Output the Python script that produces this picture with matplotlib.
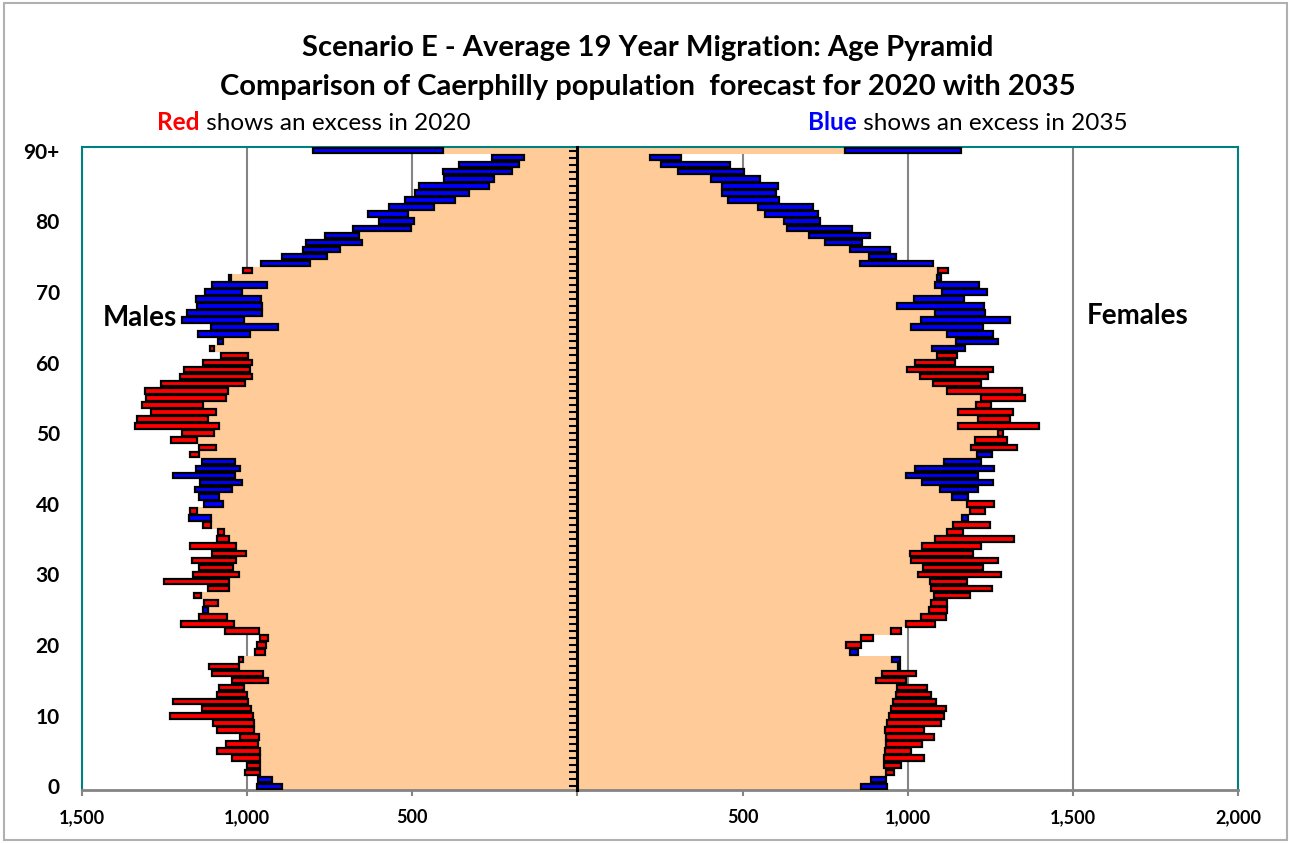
import numpy as np
import matplotlib.pyplot as plt
import matplotlib.text as mtext
from matplotlib.patches import Rectangle
from matplotlib.ticker import FuncFormatter

plt.rcParams['font.family'] = ['Lato', 'DejaVu Sans']

# single year of age, 0 .. 90+
ages = np.arange(0, 91)

male_2020 = [893, 925, 1006, 1000, 1045, 1092, 1064, 1023, 1092, 1102,
             1235, 1137, 1223, 1092, 1086, 1046, 1106, 1114, 1025, 976,
             971, 961, 1066, 1201, 1146, 1119, 1132, 1162, 1119, 1252,
             1165, 1147, 1166, 1107, 1173, 1092, 1089, 1134, 1109, 1173,
             1072, 1085, 1045, 1017, 1038, 1022, 1038, 1173, 1145, 1231,
             1198, 1339, 1334, 1292, 1319, 1306, 1309, 1262, 1203, 1190,
             1134, 1080, 1112, 1072, 991, 908, 1011, 956, 956, 959,
             1016, 940, 1048, 1014, 809, 757, 720, 652, 661, 504,
             496, 513, 435, 370, 327, 269, 254, 198, 178, 163,
             407]
male_2035 = [971, 967, 961, 961, 961, 961, 966, 964, 979, 979,
             981, 989, 996, 1001, 1011, 937, 952, 1024, 1014, 947,
             944, 937, 965, 1041, 1062, 1134, 1089, 1139, 1056, 1055,
             1026, 1044, 1034, 1003, 1034, 1055, 1070, 1108, 1177, 1151,
             1130, 1145, 1158, 1142, 1223, 1155, 1137, 1147, 1093, 1151,
             1100, 1085, 1119, 1093, 1135, 1065, 1059, 1007, 984, 991,
             984, 996, 1100, 1087, 1148, 1110, 1196, 1181, 1151, 1156,
             1127, 1107, 1054, 986, 958, 895, 832, 821, 764, 680,
             600, 635, 572, 521, 491, 481, 405, 408, 358, 258,
             802]
female_2020 = [860, 890, 957, 981, 1048, 1009, 1042, 1080, 1049, 1102,
               1110, 1117, 1085, 1070, 1057, 996, 1026, 971, 951, 824,
               858, 896, 981, 1082, 1117, 1120, 1120, 1188, 1254, 1181,
               1282, 1229, 1272, 1198, 1223, 1322, 1166, 1248, 1164, 1233,
               1260, 1133, 1098, 1044, 994, 1021, 1110, 1211, 1332, 1302,
               1287, 1396, 1310, 1319, 1252, 1355, 1345, 1221, 1244, 1257,
               1142, 1150, 1075, 1145, 1118, 1010, 1040, 1082, 968, 1019,
               1103, 1084, 1088, 1121, 855, 882, 825, 751, 700, 634,
               626, 568, 547, 457, 437, 437, 405, 305, 252, 219,
               811]
female_2035 = [936, 933, 933, 928, 928, 930, 934, 933, 931, 936,
               943, 948, 955, 964, 969, 903, 923, 977, 977, 850,
               814, 860, 950, 994, 1039, 1063, 1072, 1080, 1072, 1068,
               1032, 1046, 1009, 1007, 1044, 1083, 1118, 1138, 1183, 1189,
               1179, 1183, 1214, 1257, 1214, 1260, 1221, 1254, 1191, 1204,
               1274, 1152, 1214, 1152, 1206, 1221, 1118, 1078, 1036, 997,
               1021, 1088, 1174, 1273, 1258, 1229, 1311, 1235, 1231, 1169,
               1241, 1217, 1102, 1092, 1076, 966, 947, 861, 887, 831,
               733, 727, 712, 610, 602, 606, 553, 505, 463, 314,
               1162]

x_ticks = [-1500, -1000, -500, 0, 500, 1000, 1500, 2000]
y_ticks = [0, 10, 20, 30, 40, 50, 60, 70, 80, 90]
y_tick_labels = ['0', '10', '20', '30', '40', '50', '60', '70', '80', '90+']

peach = '#FFCC99'
red = '#FF0000'
blue = '#0000FF'
teal = '#008080'
grey = '#848484'

m20, m35 = np.array(male_2020), np.array(male_2035)
f20, f35 = np.array(female_2020), np.array(female_2035)

fig = plt.figure(figsize=(12.91, 8.43), dpi=100)
ax = fig.add_axes([82 / 1291, 1 - 790 / 843, (1238 - 82) / 1291, (790 - 147) / 843])

# common part of both years, then the excess bar on top
m_low, m_high = np.minimum(m20, m35), np.maximum(m20, m35)
f_low, f_high = np.minimum(f20, f35), np.maximum(f20, f35)
m_col = np.where(m20 > m35, red, blue)
f_col = np.where(f20 > f35, red, blue)

ax.barh(ages, -m_low, height=1.0, color=peach, linewidth=0, zorder=2)
ax.barh(ages, f_low, height=1.0, color=peach, linewidth=0, zorder=2)
ax.barh(ages, -(m_high - m_low), left=-m_low, height=0.78, color=m_col,
        edgecolor='black', linewidth=1.6, zorder=3)
ax.barh(ages, f_high - f_low, left=f_low, height=0.78, color=f_col,
        edgecolor='black', linewidth=1.6, zorder=3)

ax.set_xlim(-1500, 2000)
ax.set_ylim(-0.5, 90.5)
ax.set_xticks(x_ticks)
ax.xaxis.set_major_formatter(FuncFormatter(lambda v, p: '' if v == 0 else f'{abs(int(v)):,}'))
ax.set_yticks(y_ticks)
ax.set_yticklabels(y_tick_labels)
ax.grid(axis='x', color=grey, linewidth=1.5)
ax.set_axisbelow(True)

ax.tick_params(axis='x', length=4, width=1.5, color=grey, pad=10, labelsize=13)
ax.tick_params(axis='y', length=0, pad=16, labelsize=15)
for lab in ax.get_xticklabels() + ax.get_yticklabels():
    lab.set_fontweight('bold')

for side in ['left', 'top', 'right']:
    ax.spines[side].set_color(teal)
    ax.spines[side].set_linewidth(1.5)
ax.spines['bottom'].set_color(grey)
ax.spines['bottom'].set_linewidth(2)

# vertical axis at zero with a tick for every age
sec = ax.secondary_yaxis(1500 / 3500)
sec.set_zorder(5)
sec.set_yticks(ages)
sec.set_yticklabels([])
sec.tick_params(length=5.5, width=1.5, color='black', direction='out')
for s in sec.spines.values():
    s.set_linewidth(2.2)
    s.set_color('black')

fig.text(0.502, 1 - 48 / 843, 'Scenario E - Average 19 Year Migration: Age Pyramid',
         ha='center', va='center', fontsize=21, fontweight='bold')
fig.text(0.502, 1 - 87 / 843, 'Comparison of Caerphilly population  forecast for 2020 with 2035',
         ha='center', va='center', fontsize=21, fontweight='bold')

t_red = fig.text(157 / 1291, 1 - 130 / 843, 'Red', color=red, fontsize=17.5,
                 fontweight='bold', va='baseline')
fig.add_artist(mtext.Annotation(' shows an excess in 2020', xy=(1, 0), xycoords=t_red,
                                va='bottom', fontsize=17.5))
t_blue = fig.text(808 / 1291, 1 - 130 / 843, 'Blue', color=blue, fontsize=17.5,
                  fontweight='bold', va='baseline')
fig.add_artist(mtext.Annotation(' shows an excess in 2035', xy=(1, 0), xycoords=t_blue,
                                va='bottom', fontsize=17.5))

fig.text(103 / 1291, 1 - 318 / 843, 'Males', fontsize=20, fontweight='bold', va='center')
fig.text(1087 / 1291, 1 - 316 / 843, 'Females', fontsize=20, fontweight='bold', va='center')

fig.patches.append(Rectangle((0.003, 0.004), 0.994, 0.992, transform=fig.transFigure,
                             fill=False, edgecolor='#b0b0b0', linewidth=1.5))

fig.savefig('out.png', dpi=100)
